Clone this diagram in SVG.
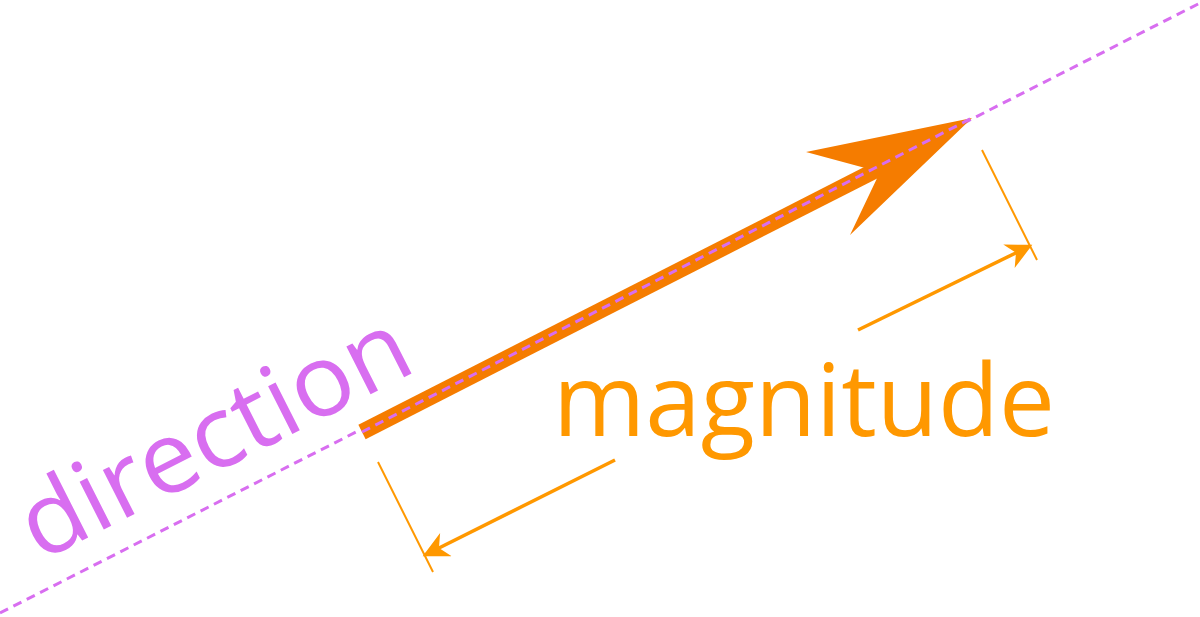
<svg xmlns="http://www.w3.org/2000/svg" width="1200" height="617" viewBox="0 0 1200 617">
<defs>
<style>
.dim{stroke:#ff9800;stroke-width:3.5;fill:none}
.tick{stroke:#ff9800;stroke-width:2;fill:none}
</style>
<marker id="ah" viewBox="0 0 10 10" refX="9" refY="5" markerWidth="32" markerHeight="26" orient="auto" markerUnits="userSpaceOnUse">
<path d="M0,0 L10,5 L0,10 L3,5 Z" fill="#ff9800"/>
</marker>
</defs>
<rect width="1200" height="617" fill="#fff"/>
<g id="connectors">
<line x1="0" y1="613" x2="1200" y2="3" stroke="#d86ef0" stroke-width="3" stroke-dasharray="9,6"/>
<line x1="362" y1="432" x2="880" y2="168" stroke="#f57c00" stroke-width="16"/>
<path d="M972,118 L806,152 L880,172 L850,235 Z" fill="#f57c00"/>
<line x1="362" y1="432" x2="972" y2="118" stroke="#d86ef0" stroke-width="3" stroke-dasharray="9,6"/>
<line class="tick" x1="378" y1="462" x2="433" y2="572"/>
<line class="tick" x1="982" y1="150" x2="1037" y2="260"/>
<line class="dim" x1="858" y1="330" x2="1030" y2="246" marker-end="url(#ah)"/>
<line class="dim" x1="615" y1="460" x2="425" y2="555" marker-end="url(#ah)"/>
</g>
<g id="magnitude"><text x="553" y="436" font-family="Open Sans, sans-serif" font-size="100" fill="#ff9800" textLength="502" lengthAdjust="spacingAndGlyphs">magnitude</text></g>
<g id="direction"><text transform="translate(40,562) rotate(-26.9)" font-family="Open Sans, sans-serif" font-size="100" fill="#d86ef0" textLength="425" lengthAdjust="spacingAndGlyphs">direction</text></g>
</svg>
